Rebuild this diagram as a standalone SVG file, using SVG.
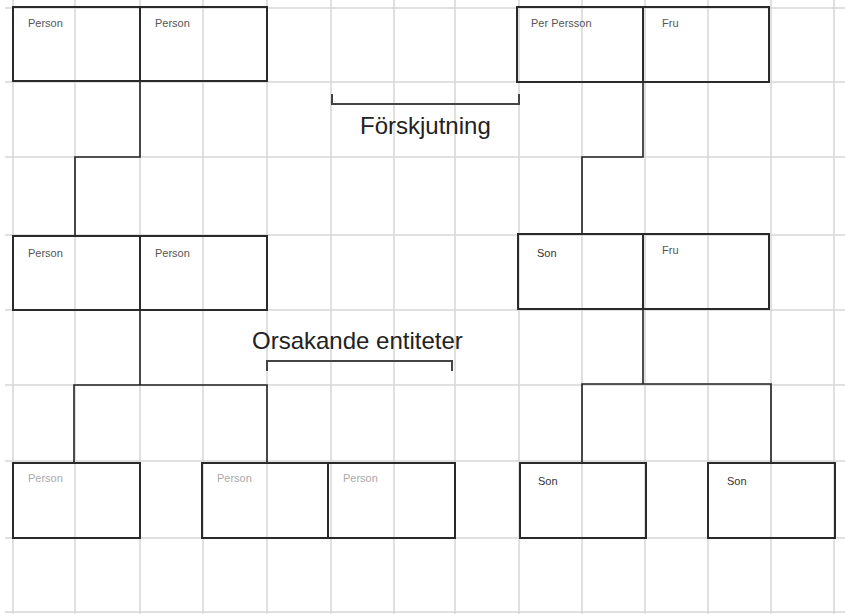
<svg xmlns="http://www.w3.org/2000/svg" width="845" height="614" viewBox="0 0 845 614">
<style>
.grid line{stroke:#d6d6d6;stroke-width:1.5}
.box{fill:none;stroke:#2a2a2a;stroke-width:2}
.lbl{font-family:"Liberation Sans",Arial,sans-serif;font-size:11px;fill:#555}
.lbl.light{fill:#aaa}
.lbl.son{fill:#333;font-size:11px}
.conn path{fill:none;stroke:#222;stroke-width:1.6}
.br{fill:none;stroke:#444;stroke-width:2}
.big{font-family:"Liberation Sans",Arial,sans-serif;font-size:24px;fill:#222}
</style>
<rect width="845" height="614" fill="#fff"/>
<g class="grid">
<line x1="5" y1="8" x2="845" y2="8"/>
<line x1="5" y1="82" x2="845" y2="82"/>
<line x1="5" y1="157" x2="845" y2="157"/>
<line x1="5" y1="235" x2="845" y2="235"/>
<line x1="5" y1="310" x2="845" y2="310"/>
<line x1="5" y1="385" x2="845" y2="385"/>
<line x1="5" y1="461" x2="845" y2="461"/>
<line x1="5" y1="538" x2="845" y2="538"/>
<line x1="5" y1="612" x2="845" y2="612"/>
<line x1="13" y1="0" x2="13" y2="614"/>
<line x1="75" y1="0" x2="75" y2="614"/>
<line x1="140" y1="0" x2="140" y2="614"/>
<line x1="203" y1="0" x2="203" y2="614"/>
<line x1="267" y1="0" x2="267" y2="614"/>
<line x1="331" y1="0" x2="331" y2="614"/>
<line x1="394" y1="0" x2="394" y2="614"/>
<line x1="455" y1="0" x2="455" y2="614"/>
<line x1="519" y1="0" x2="519" y2="614"/>
<line x1="582" y1="0" x2="582" y2="614"/>
<line x1="645" y1="0" x2="645" y2="614"/>
<line x1="708" y1="0" x2="708" y2="614"/>
<line x1="771" y1="0" x2="771" y2="614"/>
<line x1="834" y1="0" x2="834" y2="614"/>
</g>
<g id="connectors" class="conn">
<path d="M140,81 V157 H75 V236"/>
<path d="M140,310 V385"/>
<path d="M74,463 V385 H267 V463"/>
<path d="M643,82 V157 H582 V234"/>
<path d="M643,309 V384"/>
<path d="M582,463 V384 H771 V463"/>
</g>
<g id="n1"><rect class="box" x="13" y="7" width="127" height="74"/><text class="lbl" x="28" y="27">Person</text></g>
<g id="n2"><rect class="box" x="140" y="7" width="127" height="74"/><text class="lbl" x="155" y="27">Person</text></g>
<g id="n3"><rect class="box" x="517" y="7" width="126" height="75"/><text class="lbl" x="531" y="27">Per Persson</text></g>
<g id="n4"><rect class="box" x="643" y="7" width="126" height="75"/><text class="lbl" x="662" y="27">Fru</text></g>
<g id="n5"><rect class="box" x="13" y="236" width="127" height="74"/><text class="lbl" x="28" y="257">Person</text></g>
<g id="n6"><rect class="box" x="140" y="236" width="127" height="74"/><text class="lbl" x="155" y="257">Person</text></g>
<g id="n7"><rect class="box" x="518" y="234" width="125" height="75"/><text class="lbl son" x="537" y="257">Son</text></g>
<g id="n8"><rect class="box" x="643" y="234" width="126" height="75"/><text class="lbl" x="662" y="254">Fru</text></g>
<g id="n9"><rect class="box" x="13" y="463" width="127" height="75"/><text class="lbl light" x="28" y="482">Person</text></g>
<g id="n10"><rect class="box" x="202" y="463" width="126" height="75"/><text class="lbl light" x="217" y="482">Person</text></g>
<g id="n11"><rect class="box" x="328" y="463" width="127" height="75"/><text class="lbl light" x="343" y="482">Person</text></g>
<g id="n12"><rect class="box" x="520" y="463" width="126" height="75"/><text class="lbl son" x="538" y="485">Son</text></g>
<g id="n13"><rect class="box" x="708" y="463" width="127" height="75"/><text class="lbl son" x="727" y="485">Son</text></g>
<g id="bracket1"><path class="br" d="M332,94 V104 H519 V94"/><text class="big" x="360" y="134">Förskjutning</text></g>
<g id="bracket2"><path class="br" d="M267,371 V361 H452 V371"/><text class="big" x="252" y="349">Orsakande entiteter</text></g>
</svg>
